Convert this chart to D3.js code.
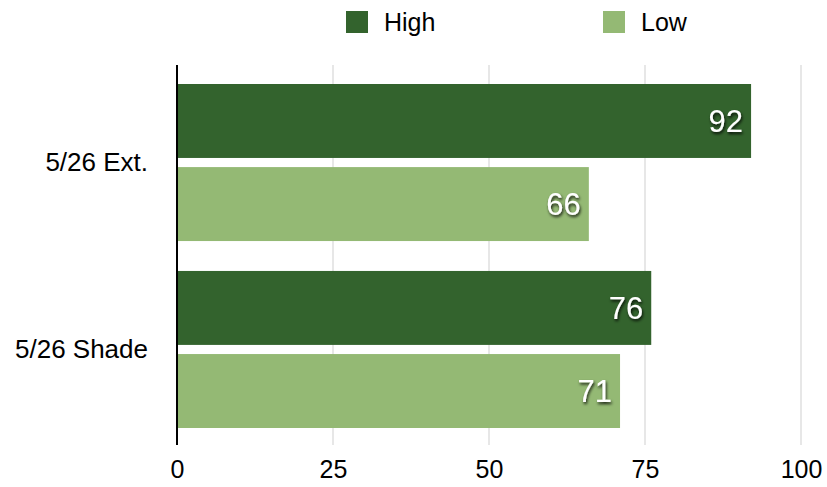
<!DOCTYPE html>
<html><head><meta charset="utf-8">
<script src="https://cdn.jsdelivr.net/npm/d3@7"></script>
<style>body{margin:0;background:#fff}svg{display:block}text{font-family:"Liberation Sans",Arial,Helvetica,sans-serif}</style>
</head><body>
<svg id="c" width="827" height="487"></svg>
<script>
const categories = ["5/26 Ext.", "5/26 Shade"];
const seriesNames = ["High", "Low"];
const highValues = [92, 76];
const lowValues = [66, 71];
const tickValues = [0, 25, 50, 75, 100];
const colors = {High: "#33632d", Low: "#94b974"};

const svg = d3.select("#c");
const defs = svg.append("defs");
const f = defs.append("filter").attr("id","sh").attr("x","-20%").attr("y","-20%").attr("width","150%").attr("height","160%");
f.append("feDropShadow").attr("dx",1).attr("dy",2).attr("stdDeviation",1.5).attr("flood-color","#000").attr("flood-opacity",0.85);

const x = d3.scaleLinear().domain([0,100]).range([177,801]);
const y0 = d3.scaleBand().domain(categories).range([84,428]).paddingInner(0.16).paddingOuter(0);
const y1 = d3.scaleBand().domain(seriesNames).range([0,y0.bandwidth()]).paddingInner(0.11);

// grid
svg.append("g").selectAll("line").data(tickValues.slice(1)).join("line")
  .attr("x1",d=>x(d)).attr("x2",d=>x(d)).attr("y1",65).attr("y2",445)
  .attr("stroke","#cfcfcf").attr("stroke-width",1);

const data = categories.map((c,i)=>({cat:c, vals:[{s:"High",v:highValues[i]},{s:"Low",v:lowValues[i]}]}));
const g = svg.append("g").selectAll("g").data(data).join("g").attr("transform",d=>`translate(0,${y0(d.cat)})`);
g.selectAll("rect").data(d=>d.vals).join("rect")
  .attr("x",x(0)).attr("y",d=>y1(d.s)).attr("width",d=>x(d.v)-x(0)).attr("height",y1.bandwidth())
  .attr("fill",d=>colors[d.s]);
g.selectAll("text").data(d=>d.vals).join("text")
  .attr("x",d=>x(d.v)-8).attr("y",d=>y1(d.s)+y1.bandwidth()/2).attr("dy","0.36em")
  .attr("text-anchor","end").attr("font-size",31).attr("fill","#fff").attr("filter","url(#sh)")
  .text(d=>d.v);

// y axis line
svg.append("line").attr("x1",x(0)).attr("x2",x(0)).attr("y1",65).attr("y2",445).attr("stroke","#000").attr("stroke-width",2);

// x tick labels
const xa = svg.append("g").attr("transform","translate(0,445)").call(d3.axisBottom(x).tickValues(tickValues).tickSize(0).tickPadding(15));
xa.select(".domain").remove();
xa.selectAll("text").attr("font-size",25).attr("fill","#000").attr("font-family","Liberation Sans, Arial, sans-serif");

// category labels
const ya = svg.append("g").attr("transform","translate(148,0)").call(d3.axisLeft(y0).tickSize(0).tickPadding(0));
ya.select(".domain").remove();
ya.selectAll("text").attr("font-size",26).attr("fill","#000").attr("font-family","Liberation Sans, Arial, sans-serif");

// legend
const lx = {High:346, Low:603};
const lg = svg.append("g").selectAll("g").data(seriesNames).join("g").attr("transform",d=>`translate(${lx[d]},11)`);
lg.append("rect").attr("width",22).attr("height",22).attr("fill",d=>colors[d]);
lg.append("text").attr("x",38).attr("y",11).attr("dy","0.36em").attr("font-size",25).attr("fill","#000").text(d=>d);
</script>
</body></html>
